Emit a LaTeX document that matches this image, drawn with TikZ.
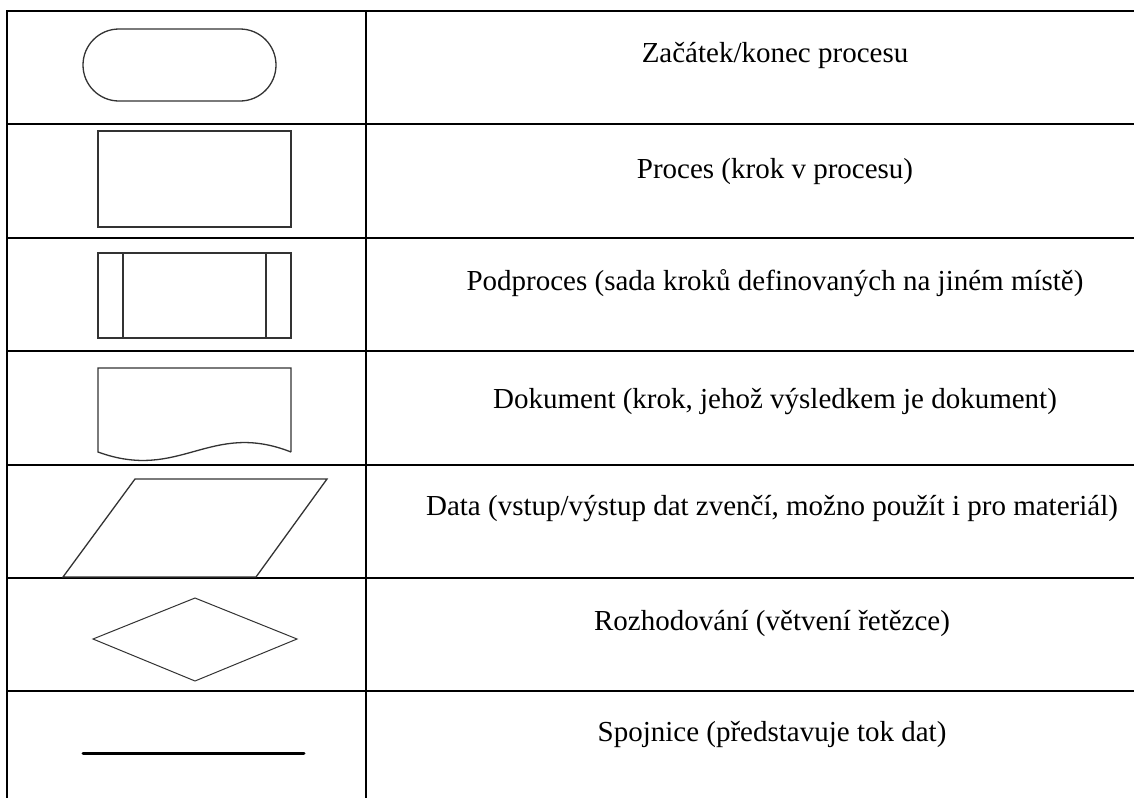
\documentclass[tikz,border=0pt]{standalone}
\usepackage{fontspec}
\setmainfont{Liberation Serif}
\usepackage{tikz}
\definecolor{inkOne}{HTML}{000000}
\definecolor{inkTwo}{HTML}{333333}
\tikzset{
  grid/.style={draw=inkOne, line width=2pt},
  sym/.style={draw=inkTwo, line width=1.3pt, line join=miter},
  desc/.style={anchor=base, font=\fontsize{29}{34}\selectfont, text=inkOne, inner sep=0pt},
}
\begin{document}
\begin{tikzpicture}[x=1pt, y=-1pt]
  \useasboundingbox[fill=white] (0,0) rectangle (1134,798);
  % table frame
  \draw[grid] (1134,11) -- (7,11) -- (7,798);
  \draw[grid] (366,11) -- (366,798);
  \foreach \y in {124,238,351,465,578,691} { \draw[grid] (7,\y) -- (1134,\y); }
  % symbols
  \draw[sym, rounded corners=36pt] (83,29) rectangle (276,101);
  \draw[sym] (98,131) rectangle (291,227);
  \draw[sym] (98,253) rectangle (291,338);
  \foreach \x in {123,266} { \draw[sym] (\x,253) -- (\x,338); }
  \draw[sym] (291,452) -- (291,368) -- (98,368) -- (98,452)
    .. controls (180,482) and (210,420) .. (291,452);
  \draw[sym] (135,479) -- (327,479) -- (256,577) -- (63,577) -- cycle;
  \draw[sym, line width=1pt] (93,639) -- (195,598) -- (297,639) -- (195,681) -- cycle;
  \draw[draw=inkOne, line width=3pt, line cap=round] (83,753) -- (304,753);
  % descriptions
  \node[desc] (tStart) at (775,62) {Začátek/konec procesu};
  \node[desc] (tProc) at (775,178) {Proces (krok v procesu)};
  \node[desc] (tSub) at (775,290) {Podproces (sada kroků definovaných na jiném místě)};
  \node[desc] (tDoc) at (775,408) {Dokument (krok, jehož výsledkem je dokument)};
  \node[desc] (tData) at (772,515) {Data (vstup/výstup dat zvenčí, možno použít i pro materiál)};
  \node[desc] (tDec) at (772,630) {Rozhodování (větvení řetězce)};
  \node[desc] (tLink) at (772,741) {Spojnice (představuje tok dat)};
\end{tikzpicture}
\end{document}
